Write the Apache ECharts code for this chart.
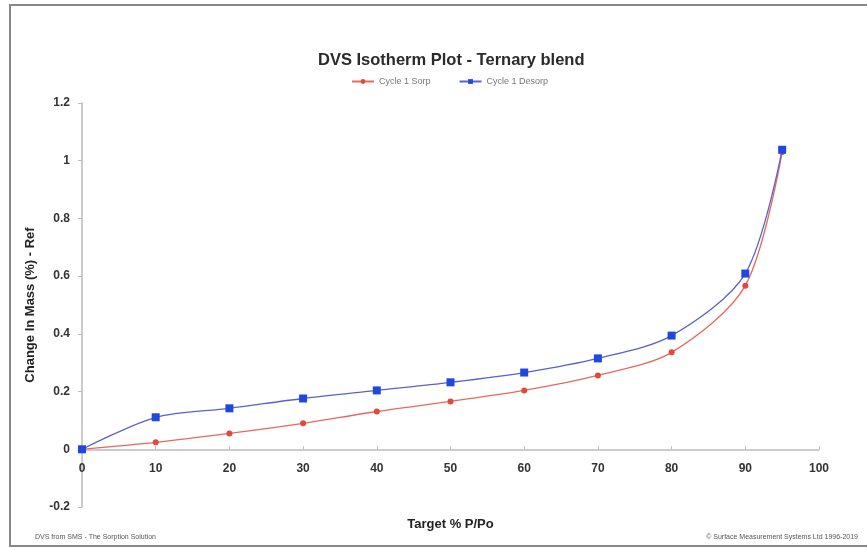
<!DOCTYPE html>
<html>
<head>
<meta charset="utf-8">
<script src="https://cdn.jsdelivr.net/npm/echarts@6/dist/echarts.min.js"></script>
<style>html,body{margin:0;padding:0;background:#fff}#c{width:867px;height:549px}</style>
</head>
<body>
<div id="c"></div>
<script>
const xValues = [0, 10, 20, 30, 40, 50, 60, 70, 80, 90, 95];
const sorpValues = [0, 0.024, 0.055, 0.09, 0.131, 0.166, 0.204, 0.256, 0.336, 0.567, 1.03];
const desorpValues = [0, 0.111, 0.142, 0.176, 0.204, 0.232, 0.266, 0.315, 0.394, 0.609, 1.038];
const seriesNames = ['Cycle 1 Sorp', 'Cycle 1 Desorp'];
const titleText = 'DVS Isotherm Plot - Ternary blend';
const xAxisName = 'Target % P/Po';
const yAxisName = 'Change In Mass (%) - Ref';
const footerLeft = 'DVS from SMS - The Sorption Solution';
const footerRight = '\u00A9 Surface Measurement Systems Ltd 1996-2019';

const chart = echarts.init(document.getElementById('c'));
const pair = (xs, ys) => xs.map((x, i) => [x, ys[i]]);
const labelStyle = {color: '#333', fontSize: 12, fontWeight: 'bold', fontFamily: 'Liberation Sans, Arial, sans-serif'};
chart.setOption({
  animation: false,
  backgroundColor: '#fff',
  title: {
    text: titleText, left: 313, top: 47,
    textStyle: {fontSize: 16.5, fontWeight: 'bold', color: '#2a2a2a', fontFamily: 'Liberation Sans, Arial, sans-serif'}
  },
  legend: {
    top: 72, left: 346, itemGap: 28, itemWidth: 22, itemHeight: 6,
    textStyle: {fontSize: 9, color: '#777', fontFamily: 'Liberation Sans, Arial, sans-serif'},
    data: seriesNames
  },
  grid: {left: 82, right: 48, top: 103, bottom: 42, containLabel: false, outerBoundsMode: 'none'},
  xAxis: {
    type: 'value', min: 0, max: 100, interval: 10,
    name: xAxisName, nameLocation: 'middle', nameGap: 11, nameMoveOverlap: false,
    nameTextStyle: {fontSize: 13, fontWeight: 'bold', color: '#222', fontFamily: 'Liberation Sans, Arial, sans-serif'},
    axisLine: {onZero: true, lineStyle: {color: '#bbb', width: 1.5}},
    axisTick: {show: true, inside: true, length: 3, lineStyle: {color: '#bbb'}},
    axisLabel: Object.assign({margin: -44}, labelStyle),
    splitLine: {show: false}
  },
  yAxis: {
    type: 'value', min: -0.2, max: 1.2, interval: 0.2,
    name: yAxisName, nameLocation: 'middle', nameGap: 45, nameRotate: 90,
    nameTextStyle: {fontSize: 13, fontWeight: 'bold', color: '#222', fontFamily: 'Liberation Sans, Arial, sans-serif'},
    axisLine: {show: true, onZero: false, lineStyle: {color: '#bbb', width: 1.5}},
    axisTick: {show: true, length: 4, lineStyle: {color: '#bbb'}},
    axisLabel: Object.assign({margin: 12, formatter: v => String(Math.round(v * 10) / 10)}, labelStyle),
    splitLine: {show: false}
  },
  series: [
    {
      name: seriesNames[0], type: 'line', data: pair(xValues, sorpValues),
      smooth: 0.3,
      symbol: 'circle', symbolSize: 6,
      itemStyle: {color: '#e2483c'},
      lineStyle: {color: '#e8685e', width: 1.3}, z: 2
    },
    {
      name: seriesNames[1], type: 'line', data: pair(xValues, desorpValues),
      smooth: 0.3,
      symbol: 'rect', symbolSize: 8,
      itemStyle: {color: '#1f48e0'},
      lineStyle: {color: '#5a62c8', width: 1.3}, z: 3
    }
  ],
  graphic: [
    {type: 'rect', shape: {x: 10, y: 5, width: 860, height: 541}, style: {fill: 'none', stroke: '#888', lineWidth: 2}, silent: true},
    {type: 'text', left: 35, top: 534, style: {text: footerLeft, fontSize: 7, fill: '#555', fontFamily: 'Liberation Sans, Arial, sans-serif'}},
    {type: 'text', right: 9, top: 534, style: {text: footerRight, fontSize: 7, fill: '#555', fontFamily: 'Liberation Sans, Arial, sans-serif'}}
  ]
});
</script>
</body>
</html>
